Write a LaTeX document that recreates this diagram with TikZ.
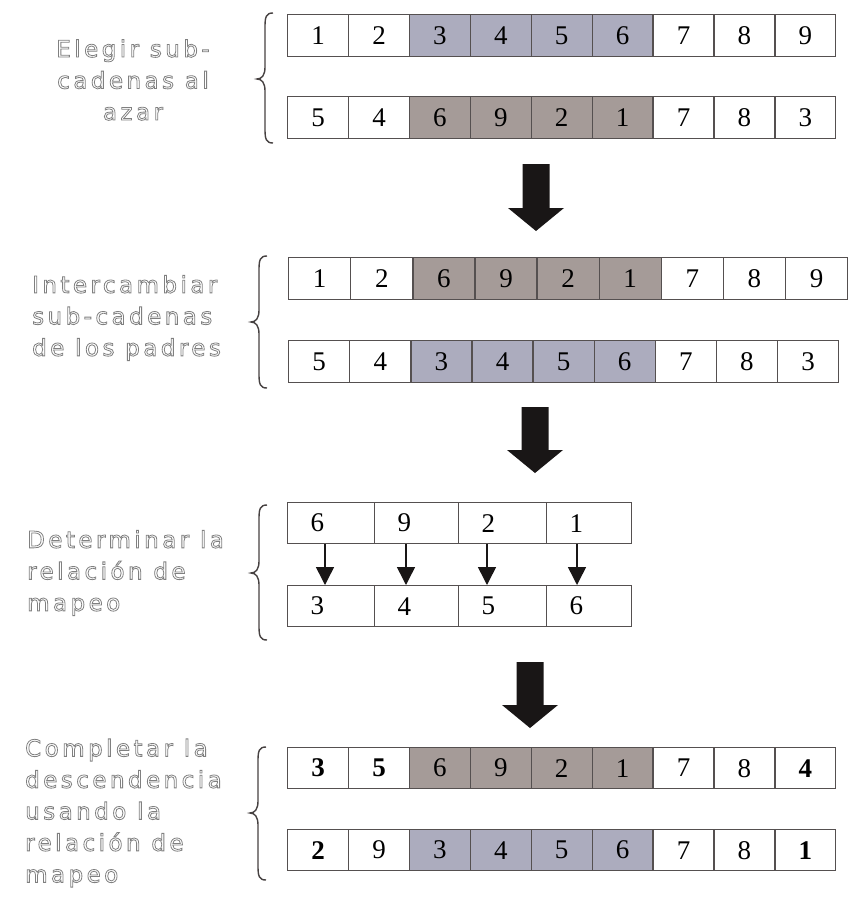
\documentclass[tikz,border=0pt]{standalone}
\usepackage{fontspec}
\setmainfont{Liberation Serif}
\newfontfamily\labfont[LetterSpace=15]{DejaVu Sans}
\usetikzlibrary{arrows.meta}
\definecolor{cellblue}{RGB}{172,172,190}
\definecolor{cellbrown}{RGB}{165,155,152}
\definecolor{cellline}{RGB}{85,80,80}
\definecolor{bracecol}{RGB}{70,65,65}
\definecolor{arrowcol}{RGB}{25,22,22}
\newcommand\outlineon{\special{pdf:literal direct 2 Tr 0.8 w 0.5 G}}
\newcommand\outlineoff{\special{pdf:literal direct 0 Tr}}
\newcommand\cellrow[6]{%
  \foreach \v/\f [count=\i] in {#6} {%
    \node[cellbox, fill=\f, minimum width=#4pt, minimum height=#5pt] (#1\i) at ({#2+(\i-1)*#4},#3) {\v};}}
\newcommand\bracedraw[4]{%
  \draw[bracestyle] ({#1+16},#2) .. controls ({#1+9},#2) and ({#1+8},{#2+4}) .. ({#1+8},{#2+14})
    -- ({#1+8},{#3-12}) .. controls ({#1+8},{#3-4}) and ({#1+5},#3) .. (#1,#3)
    .. controls ({#1+5},#3) and ({#1+8},{#3+4}) .. ({#1+8},{#3+12})
    -- ({#1+8},{#4-14}) .. controls ({#1+8},{#4-4}) and ({#1+9},#4) .. ({#1+16},#4);}
\newcommand\blockarrow[4]{%
  \fill[arrowcol] ({#1-13.5},#2) -- ({#1+13.5},#2) -- ({#1+13.5},#3) -- ({#1+28},#3)
    -- (#1,#4) -- ({#1-28},#3) -- ({#1-13.5},#3) -- cycle;}
\tikzset{
  cellbox/.style={draw=cellline, line width=1.3pt, inner sep=0pt, anchor=north west,
    font=\fontsize{27}{27}\selectfont},
  mapcell/.style={cellbox, fill=white, minimum height=41pt, inner xsep=23pt, align=left},
  bracestyle/.style={draw=bracecol, line width=1.4pt},
  labelstyle/.style={inner sep=0pt, text=white, font=\labfont\fontsize{23}{31.5}\selectfont},
  maparrow/.style={draw=arrowcol, line width=1.5pt, -{Triangle[width=18pt,length=18pt]}}
}
\begin{document}
\begin{tikzpicture}[x=1pt,y=-1pt]
\useasboundingbox (0,0) rectangle (850,905);
% ---------- group 1
\node[labelstyle, align=center] (t1) at (133,80) {\outlineon Elegir sub-\\cadenas al\\azar\outlineoff};
\bracedraw{257}{13}{79}{143}
\cellrow{ga}{287}{14}{60.9}{42}{1/white,2/white,3/cellblue,4/cellblue,5/cellblue,6/cellblue,7/white,8/white,9/white}
\cellrow{gb}{287}{96}{60.9}{42}{5/white,4/white,6/cellbrown,9/cellbrown,2/cellbrown,1/cellbrown,7/white,8/white,3/white}
\blockarrow{536}{164}{208}{231}
% ---------- group 2
\node[labelstyle, align=left, anchor=west] (t2) at (32,318) {\outlineon Intercambiar\\sub-cadenas\\de los padres\outlineoff};
\bracedraw{251}{256}{322}{388}
\cellrow{ha}{288}{257}{62.1}{42}{1/white,2/white,6/cellbrown,9/cellbrown,2/cellbrown,1/cellbrown,7/white,8/white,9/white}
\cellrow{hb}{288}{340}{61.1}{42}{5/white,4/white,3/cellblue,4/cellblue,5/cellblue,6/cellblue,7/white,8/white,3/white}
\blockarrow{535}{407}{450}{473}
% ---------- group 3
\node[labelstyle, align=left, anchor=west] (t3) at (27,573) {\outlineon Determinar la\\relación de\\mapeo\outlineoff};
\bracedraw{251}{505}{573}{640}
\node[mapcell, text width=41pt] (u1) at (287,502) {6};
\node[mapcell, text width=38pt] (u2) at (374,502) {9};
\node[mapcell, text width=42pt] (u3) at (458,502) {2};
\node[mapcell, text width=39pt] (u4) at (546,502) {1};
\node[mapcell, text width=41pt] (l1) at (287,585) {3};
\node[mapcell, text width=38pt] (l2) at (374,585) {4};
\node[mapcell, text width=42pt] (l3) at (458,585) {5};
\node[mapcell, text width=39pt] (l4) at (546,585) {6};
\draw[maparrow] ([xshift=38pt]u1.south west) -- ([xshift=38pt]l1.north west);
\draw[maparrow] ([xshift=32pt]u2.south west) -- ([xshift=32pt]l2.north west);
\draw[maparrow] ([xshift=29pt]u3.south west) -- ([xshift=29pt]l3.north west);
\draw[maparrow] ([xshift=31pt]u4.south west) -- ([xshift=31pt]l4.north west);
\blockarrow{530}{662}{705}{728}
% ---------- group 4
\node[labelstyle, align=left, anchor=west] (t4) at (25,813) {\outlineon Completar la\\descendencia\\usando la\\relación de\\mapeo\outlineoff};
\bracedraw{250}{747}{813}{880}
\cellrow{ka}{287}{747}{60.9}{41}{\textbf{3}/white,\textbf{5}/white,6/cellbrown,9/cellbrown,2/cellbrown,1/cellbrown,7/white,8/white,\textbf{4}/white}
\cellrow{kb}{287}{829}{60.9}{41}{\textbf{2}/white,9/white,3/cellblue,4/cellblue,5/cellblue,6/cellblue,7/white,8/white,\textbf{1}/white}
\end{tikzpicture}
\end{document}
